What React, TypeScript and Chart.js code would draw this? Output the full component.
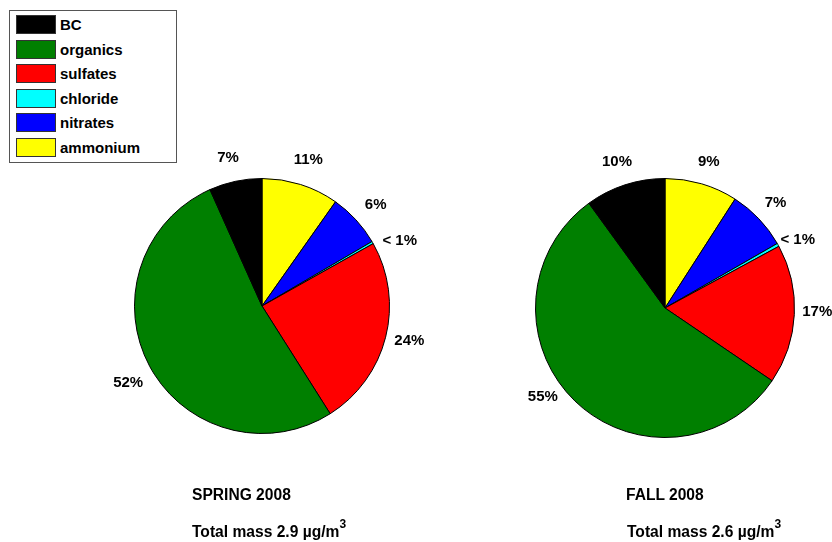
import React, { useEffect, useRef } from "react";
import { Chart, registerables } from "chart.js";

Chart.register(...registerables);

const categories = ["BC", "organics", "sulfates", "chloride", "nitrates", "ammonium"];
const colors = ["#000000", "#007f00", "#ff0000", "#00ffff", "#0000ff", "#ffff00"];
const springValues = [6.7, 52.4, 24.2, 0.3, 6.8, 9.8];
const springLabels = ["7%", "52%", "24%", "< 1%", "6%", "11%"];
const fallValues = [10, 55.5, 17.4, 0.4, 7.6, 9.1];
const fallLabels = ["10%", "55%", "17%", "< 1%", "7%", "9%"];
const seasonTitles = ["SPRING 2008", "FALL 2008"];
const totalMasses = ["2.9", "2.6"];

// small pixel nudges of the percentage labels (label placement only)
const springLabelNudges = [[-2, 1], [1, 5], [-1, -3], [5, 11], [1, 2], [0, 0]];
const fallLabelNudges = [[0, 2], [-14, -23], [-3, -4], [-3, 8], [-2, 2], [0, 3]];

const FONT = "'Liberation Sans', Arial, Helvetica, sans-serif";

const outsideLabels = {
  id: "outsideLabels",
  afterDatasetsDraw(chart: any) {
    const ctx = chart.ctx;
    const meta = chart.getDatasetMeta(0);
    const opts = chart.options.plugins.outsideLabels;
    const labels: string[] = opts.labels;
    const nudges: number[][] = opts.nudges;
    ctx.save();
    ctx.font = "bold 15px " + FONT;
    ctx.fillStyle = "#000";
    ctx.textAlign = "center";
    ctx.textBaseline = "middle";
    meta.data.forEach((arc: any, i: number) => {
      const p = arc.getProps(["x", "y", "startAngle", "endAngle", "outerRadius"], true);
      const mid = (p.startAngle + p.endAngle) / 2;
      const r = p.outerRadius * 1.2;
      ctx.fillText(labels[i], p.x + Math.cos(mid) * r + nudges[i][0], p.y + Math.sin(mid) * r + nudges[i][1]);
    });
    ctx.restore();
  },
};

function PieChart(props: {
  values: number[];
  labels: string[];
  nudges: number[][];
  left: number;
  top: number;
  radius: number;
}) {
  const ref = useRef<HTMLCanvasElement | null>(null);
  useEffect(() => {
    if (!ref.current) return;
    const order = [...categories.keys()].reverse();
    const size = 400;
    const pad = (size - 2 * props.radius) / 2;
    const chart = new Chart(ref.current, {
      type: "pie",
      data: {
        labels: order.map((i) => categories[i]),
        datasets: [
          {
            data: order.map((i) => props.values[i]),
            backgroundColor: order.map((i) => colors[i]),
            borderColor: "#000000",
            borderWidth: 1,
          },
        ],
      },
      options: {
        animation: false,
        responsive: false,
        layout: { padding: pad },
        plugins: {
          legend: { display: false },
          tooltip: { enabled: false },
          outsideLabels: {
            labels: order.map((i) => props.labels[i]),
            nudges: order.map((i) => props.nudges[i]),
          },
        } as any,
      },
      plugins: [outsideLabels],
    });
    return () => chart.destroy();
  }, []);
  return (
    <canvas
      ref={ref}
      width={400}
      height={400}
      style={{ position: "absolute", left: props.left - 200, top: props.top - 200, width: 400, height: 400 }}
    />
  );
}

export default function App() {
  return (
    <div
      style={{
        position: "fixed",
        left: 0,
        top: 0,
        width: 832,
        height: 542,
        overflow: "hidden",
        background: "#fff",
        fontFamily: FONT,
      }}
    >
      <PieChart values={springValues} labels={springLabels} nudges={springLabelNudges} left={262} top={306} radius={128} />
      <PieChart values={fallValues} labels={fallLabels} nudges={fallLabelNudges} left={665} top={308} radius={130} />
      <div
        style={{
          position: "absolute",
          left: 9,
          top: 10,
          width: 166,
          height: 151,
          border: "1px solid #555",
          background: "#fff",
          zIndex: 2,
        }}
      >
        {categories.map((c, i) => (
          <div key={c} style={{ position: "absolute", left: 6, top: 4 + i * 24.6, height: 19, display: "flex", alignItems: "center" }}>
            <div style={{ width: 38, height: 17, background: colors[i], border: "1px solid #333" }} />
            <span style={{ marginLeft: 4, fontSize: 15, fontWeight: "bold", color: "#000" }}>{c}</span>
          </div>
        ))}
      </div>
      {[0, 1].map((k) => (
        <React.Fragment key={k}>
          <div
            style={{
              position: "absolute",
              left: k === 0 ? 192 : 626,
              top: 486,
              fontSize: 15.6,
              fontWeight: "bold",
              whiteSpace: "nowrap",
            }}
          >
            {seasonTitles[k]}
          </div>
          <div
            style={{
              position: "absolute",
              left: k === 0 ? 192 : 627,
              top: 523,
              fontSize: 15.6,
              fontWeight: "bold",
              whiteSpace: "nowrap",
            }}
          >
            Total mass {totalMasses[k]} µg/m<sup style={{ fontSize: 12, verticalAlign: "9px", lineHeight: 0 }}>3</sup>
          </div>
        </React.Fragment>
      ))}
    </div>
  );
}
